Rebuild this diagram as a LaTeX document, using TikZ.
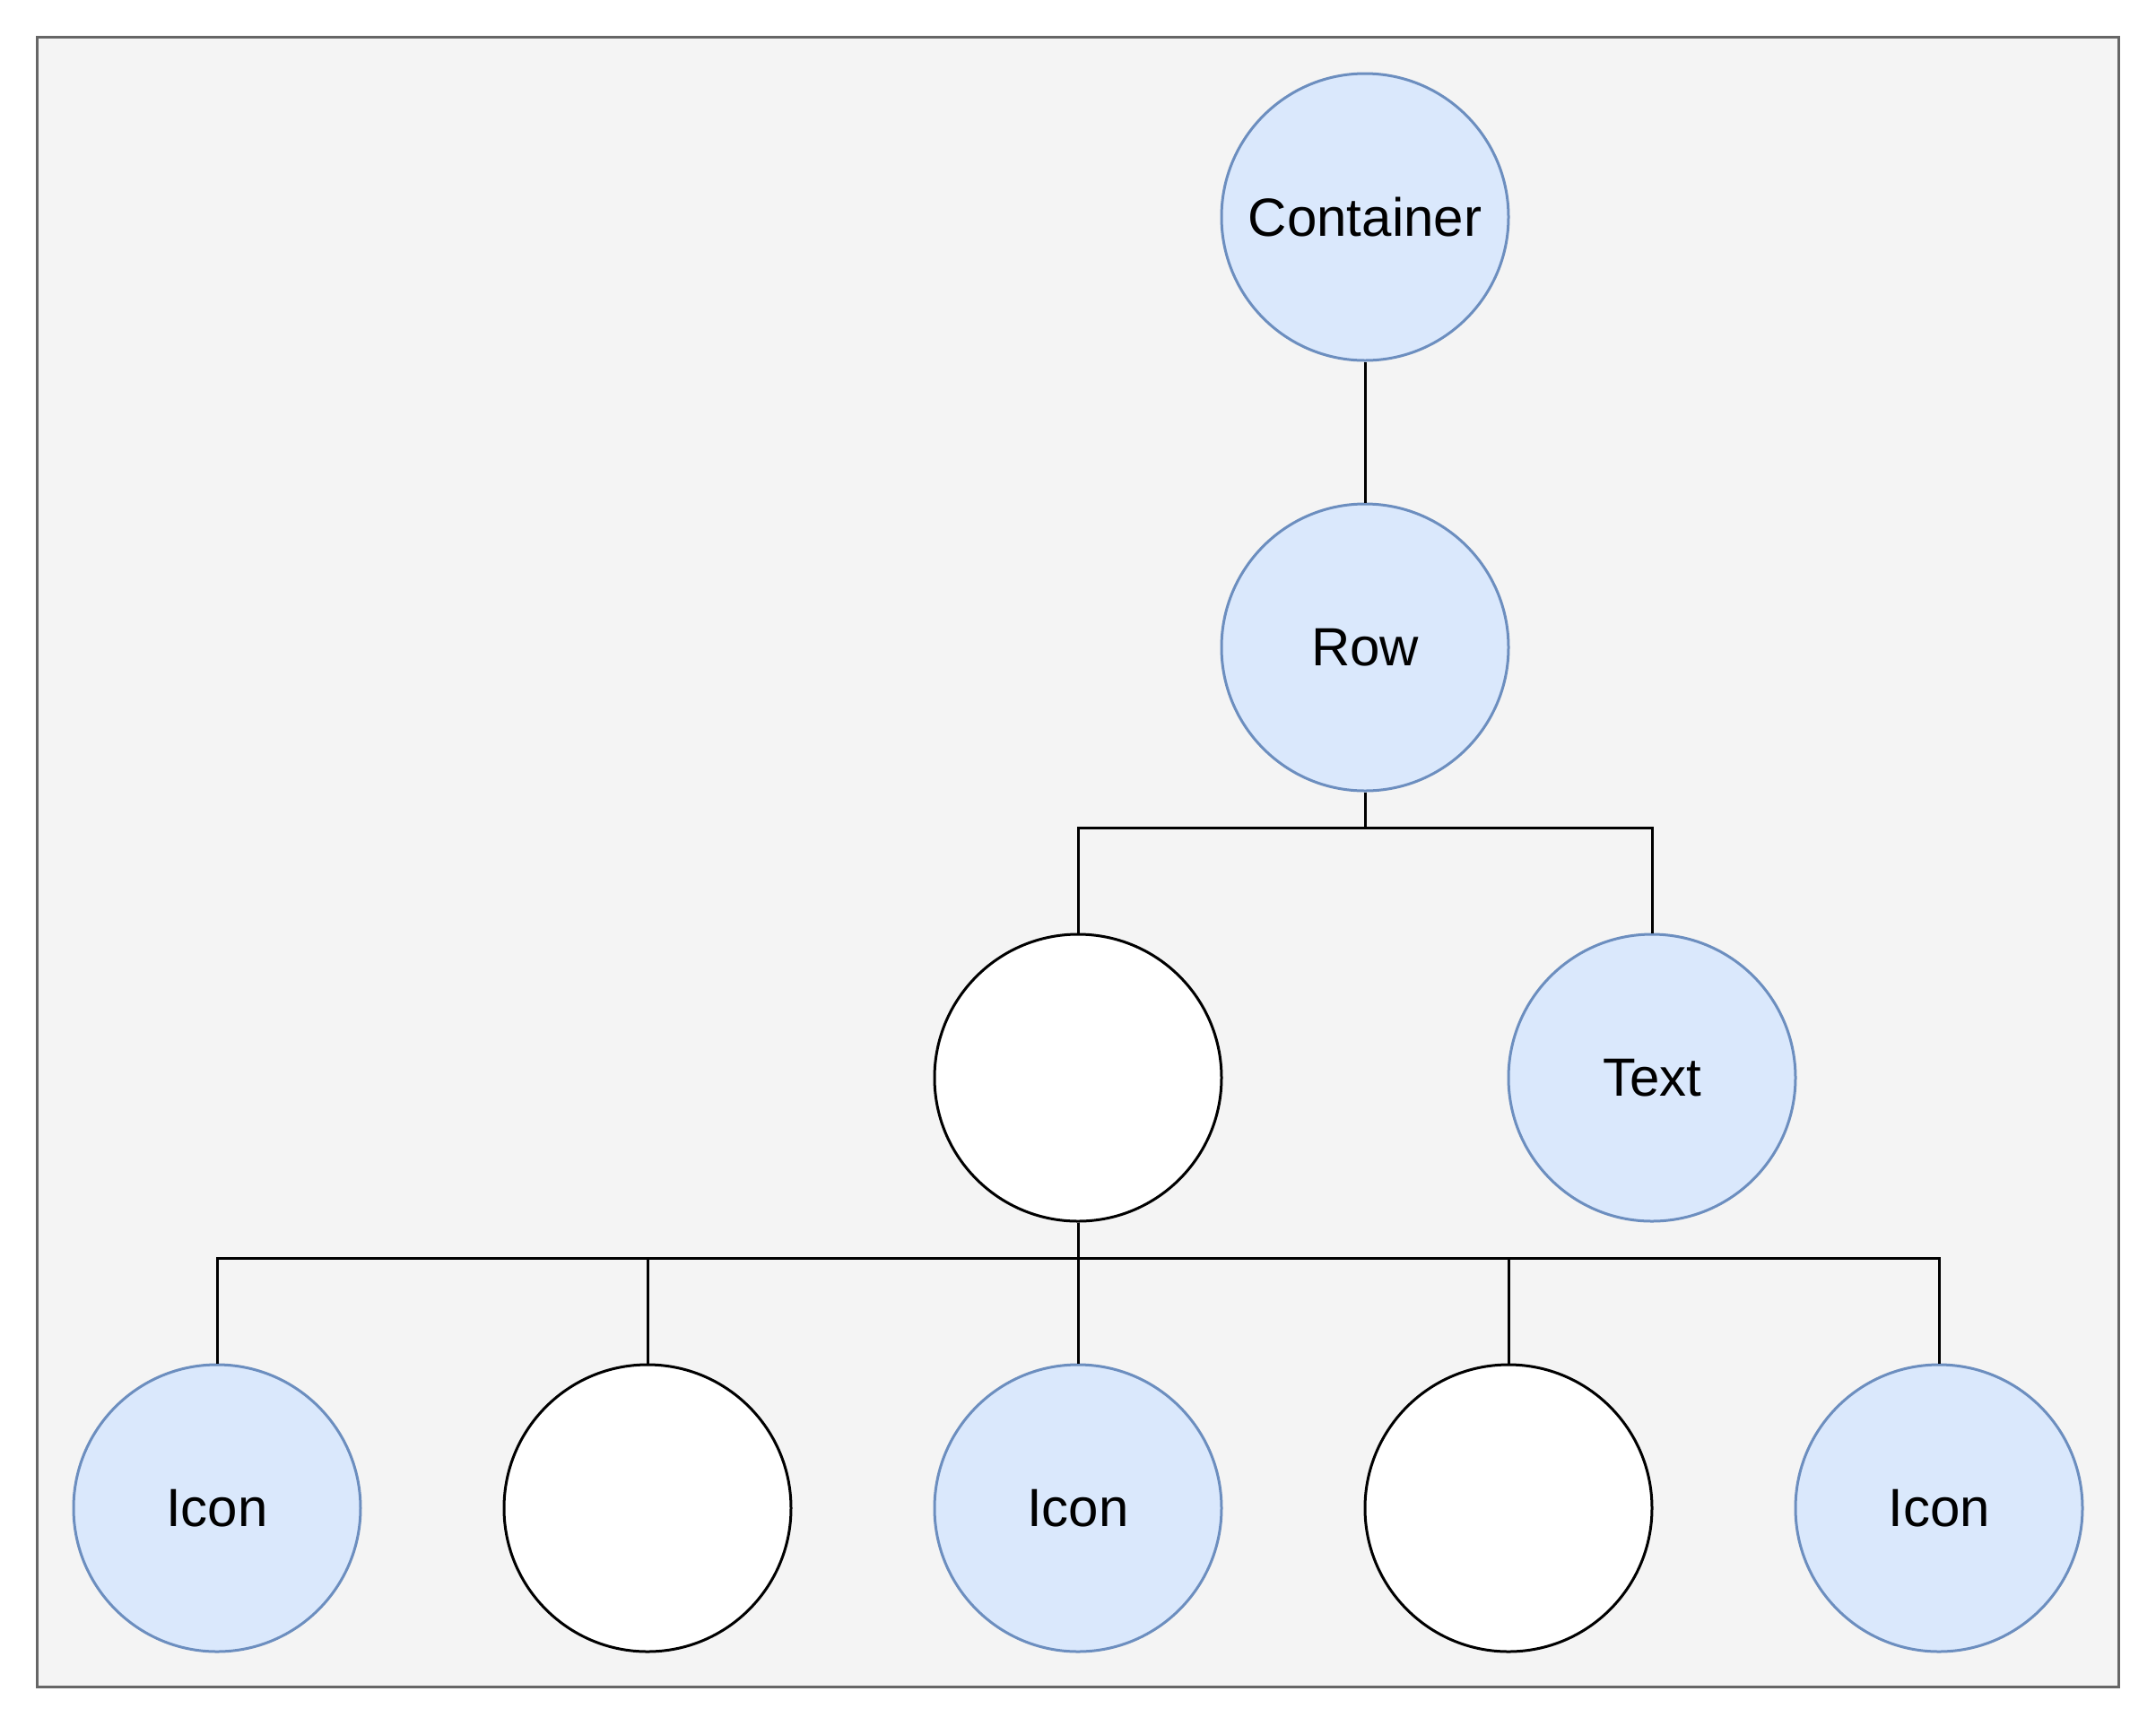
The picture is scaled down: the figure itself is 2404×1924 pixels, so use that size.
\documentclass[tikz,border=0pt]{standalone}
\usepackage{fontspec}
\setmainfont{Liberation Sans}
\definecolor{bluefill}{HTML}{DAE8FC}
\definecolor{bluestroke}{HTML}{6C8EBF}
\definecolor{panelfill}{HTML}{F4F4F4}
\definecolor{panelstroke}{HTML}{666666}
\begin{document}
\begin{tikzpicture}[x=0.5pt,y=-0.5pt,
  widget/.style={circle, draw=bluestroke, fill=bluefill, line width=1.5pt,
    minimum size=160pt, inner sep=0pt, font=\fontsize{30pt}{36pt}\selectfont},
  plainnode/.style={circle, draw=black, fill=white, line width=1.5pt,
    minimum size=160pt, inner sep=0pt},
  link/.style={draw=black, line width=1.5pt}]
  \useasboundingbox (0,0) rectangle (2404,1924);
  \draw[panelstroke, fill=panelfill, line width=1.5pt] (41,41) rectangle (2362,1881);

  \node[widget] (container) at (1522,242) {Container};
  \node[widget] (row) at (1522,722) {Row};
  \node[plainnode] (group) at (1202,1202) {};
  \node[widget] (text) at (1842,1202) {Text};
  \node[widget] (icon1) at (242,1682) {Icon};
  \node[plainnode] (gap1) at (722,1682) {};
  \node[widget] (icon2) at (1202,1682) {Icon};
  \node[plainnode] (gap2) at (1682,1682) {};
  \node[widget] (icon3) at (2162,1682) {Icon};

  \draw[link] (container.south) -- (row.north);
  \draw[link] (row.south) -- ++(0,40) -| (group.north);
  \draw[link] (row.south) -- ++(0,40) -| (text.north);
  \foreach \c in {icon1,gap1,icon2,gap2,icon3}
    \draw[link] (group.south) -- ++(0,40) -| (\c.north);
\end{tikzpicture}
\end{document}
